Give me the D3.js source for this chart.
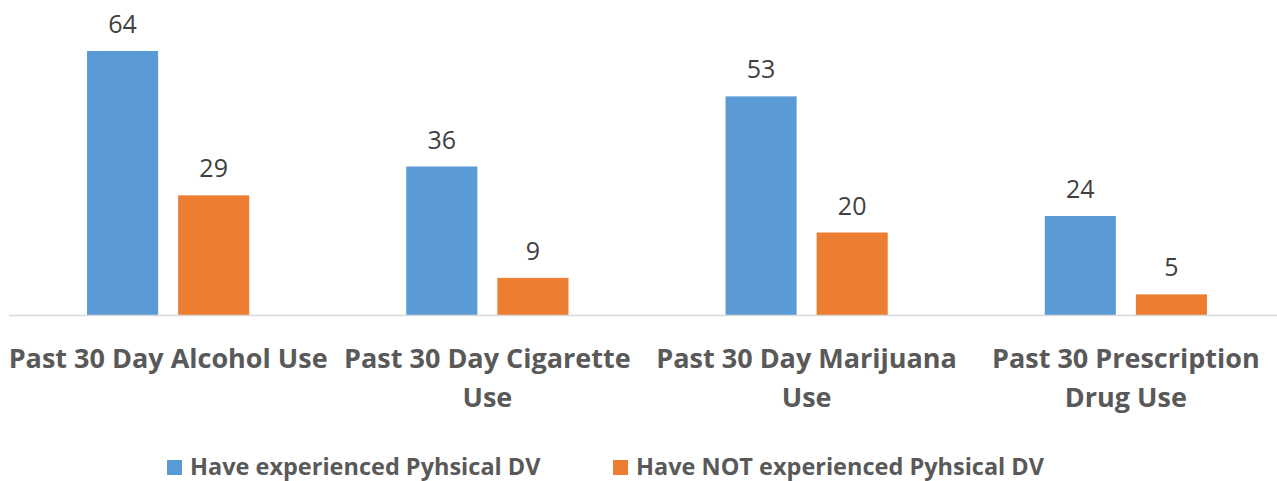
<!DOCTYPE html>
<html>
<head>
<meta charset="utf-8">
<script src="https://cdn.jsdelivr.net/npm/d3@7"></script>
<style>
  body { margin: 0; background: #fff; }
  svg { display: block; font-family: "Open Sans", Lato, sans-serif; }
</style>
</head>
<body>
<svg id="chart"></svg>
<script>
const categories = ['Past 30 Day Alcohol Use', 'Past 30 Day Cigarette Use', 'Past 30 Day Marijuana Use', 'Past 30 Prescription Drug Use'];
const seriesNames = ['Have experienced Pyhsical DV', 'Have NOT experienced Pyhsical DV'];
const experienced = [64, 36, 53, 24];
const notExperienced = [29, 9, 20, 5];

const colors = ['#5b9bd5', '#ed7d31'];
const W = 1277, H = 481;
const baseline = 315;

const svg = d3.select('#chart').attr('width', W).attr('height', H);

const x0 = d3.scaleBand().domain(categories)
	.range([8.5, 1285.5]).paddingInner(0.492).paddingOuter(0.246);
const x1 = d3.scaleBand().domain(seriesNames)
	.range([0, x0.bandwidth()]).paddingInner(20 / 91);
const y = d3.scaleLinear().domain([0, 64]).range([baseline, 51]);

const rows = categories.map((c, i) => ({ cat: c, vals: [experienced[i], notExperienced[i]] }));

const groups = svg.selectAll('g.cat').data(rows).enter()
	.append('g').attr('class', 'cat')
	.attr('transform', d => `translate(${x0(d.cat)},0)`);

groups.selectAll('rect').data(d => d.vals.map((v, j) => ({ v, s: seriesNames[j], j })))
	.enter().append('rect')
	.attr('x', d => x1(d.s)).attr('width', x1.bandwidth())
	.attr('y', d => y(d.v)).attr('height', d => baseline - y(d.v))
	.attr('fill', d => colors[d.j]);

groups.selectAll('text.val').data(d => d.vals.map((v, j) => ({ v, s: seriesNames[j] })))
	.enter().append('text').attr('class', 'val')
	.attr('x', d => x1(d.s) + x1.bandwidth() / 2)
	.attr('y', d => y(d.v) - 18)
	.attr('text-anchor', 'middle')
	.attr('font-size', 25).attr('fill', '#404040')
	.text(d => d.v);

// axis line
svg.append('line')
	.attr('x1', 9).attr('x2', W).attr('y1', baseline + 0.5).attr('y2', baseline + 0.5)
	.attr('stroke', '#d9d9d9').attr('stroke-width', 1.5);

// category labels, wrapped into the band
const labels = svg.selectAll('text.cat').data(categories).enter()
	.append('text').attr('class', 'cat')
	.attr('text-anchor', 'middle')
	.attr('font-size', 27).attr('font-weight', 'bold').attr('fill', '#595959')
	.attr('x', d => x0(d) + x0.bandwidth() / 2)
	.attr('y', 368);

labels.each(function(d) {
	const t = d3.select(this);
	const words = d.split(' ');
	let line = [], lines = [];
	const probe = t.append('tspan');
	words.forEach(w => {
		probe.text(line.concat(w).join(' '));
		if (probe.node().getComputedTextLength() > 322 && line.length) {
			lines.push(line.join(' '));
			line = [w];
		} else line.push(w);
	});
	lines.push(line.join(' '));
	probe.remove();
	const cx = t.attr('x');
	lines.forEach((l, i) => {
		t.append('tspan').attr('x', cx).attr('dy', i ? 39 : 0).text(l);
	});
});

// legend
const legendX = [167, 613];
const legend = svg.selectAll('g.leg').data(seriesNames).enter()
	.append('g').attr('class', 'leg')
	.attr('transform', (d, i) => `translate(${legendX[i]},460)`);
legend.append('rect').attr('width', 15).attr('height', 15)
	.attr('fill', (d, i) => colors[i]);
legend.append('text').attr('x', 23).attr('y', 15)
	.attr('font-size', 23.5).attr('font-weight', 'bold').attr('fill', '#595959')
	.text(d => d);
</script>
</body>
</html>
